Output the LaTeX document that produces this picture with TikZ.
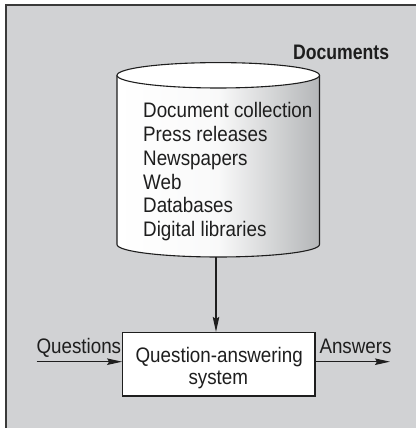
\documentclass[tikz,border=0pt]{standalone}
\usepackage{fontspec}
\usetikzlibrary{arrows.meta}
\newfontfamily\bodyfont[FakeStretch=0.895]{Liberation Sans}
\newfontfamily\titlefont{Liberation Sans}
\definecolor{bggray}{HTML}{D1D2D4}
\definecolor{framegray}{HTML}{3A3A3A}
\definecolor{inkc}{HTML}{1E1E1E}
\definecolor{cylright}{HTML}{B4B6B8}
\tikzset{
  txt/.style={inner sep=0pt, text=inkc, font=\bodyfont\fontsize{21}{24}\selectfont},
  arr/.style={draw=inkc, line width=1.1pt, -{Stealth[length=15pt,width=6.5pt,inset=2pt]}},
  qabox/.style={draw=inkc, fill=white, line width=1.2pt, minimum width=192.3pt, minimum height=63.5pt, inner sep=0pt},
  cylline/.style={draw=inkc, line width=1.1pt}
}
\begin{document}
\begin{tikzpicture}[x=1pt,y=1pt]
\useasboundingbox (0,0) rectangle (416,428);
% background frame
\fill[bggray] (6,0) rectangle (416,423);
\draw[framegray, line width=1.6pt] (6,0) |- (416,423);
% cylinder body
\shade[left color=white, right color=cylright, middle color=white!92!cylright]
  (117,352.7) -- (117,183.5) arc[start angle=180, end angle=360, x radius=101.25pt, y radius=12.5pt]
  -- (319.5,352.7) arc[start angle=0, end angle=180, x radius=101.25pt, y radius=12.7pt] -- cycle;
\draw[cylline] (117,352.7) -- (117,183.5) arc[start angle=180, end angle=360, x radius=101.25pt, y radius=12.5pt]
  -- (319.5,352.7);
\draw[cylline, fill=white] (218.25,352.7) ellipse[x radius=101.25pt, y radius=12.7pt];
\coordinate (cylbottom) at (216,171);
% labels
\node[txt, anchor=base east, font=\titlefont\bfseries\fontsize{21}{24}\selectfont] (doctitle) at (389.3,368.7) {\scalebox{0.84}[1]{Documents}};
\node[txt, anchor=base west] (l1) at (143,310.3) {Document collection};
\node[txt, anchor=base west] (l2) at (143,286.5) {Press releases};
\node[txt, anchor=base west] (l3) at (143,262.7) {Newspapers};
\node[txt, anchor=base west] (l4) at (143,238.9) {Web};
\node[txt, anchor=base west] (l5) at (143,215.1) {Databases};
\node[txt, anchor=base west] (l6) at (143,191.3) {Digital libraries};
% box
\node[qabox] (qa) at (218.85,63.75) {};
\node[txt, anchor=base] (qa1) at (219.2,65) {Question-answering};
\node[txt, anchor=base] (qa2) at (218.3,43) {system};
% arrows
\draw[arr] (cylbottom) -- (cylbottom |- qa.north);
\coordinate (qin) at (36.7,66.3);
\coordinate (aout) at (390,66.3);
\draw[arr] (qin) -- (qin -| qa.west);
\draw[arr] (aout -| qa.east) -- (aout);
\node[txt, anchor=base west] (qlabel) at (36.3,74.3) {Questions};
\node[txt, anchor=base west] (alabel) at (319.3,74.2) {Answers};
\end{tikzpicture}
\end{document}
